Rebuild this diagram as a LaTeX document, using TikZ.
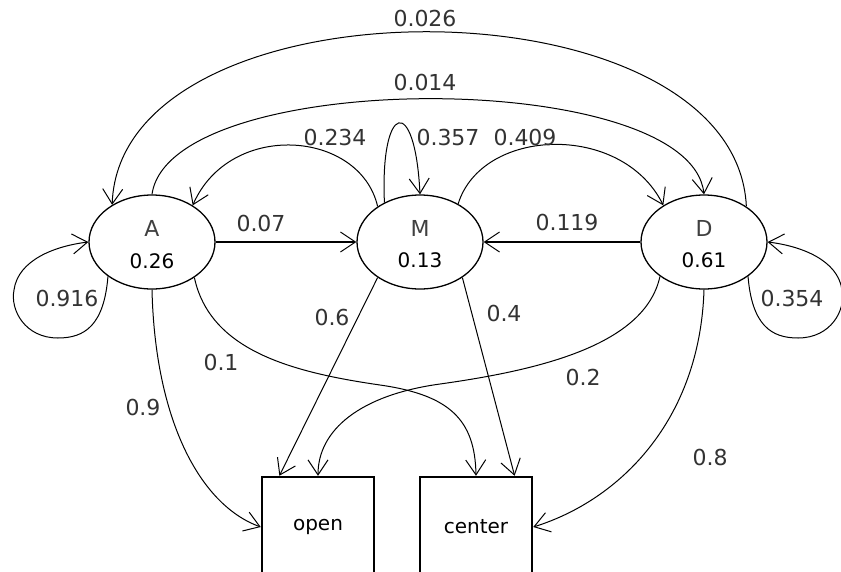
\documentclass[tikz,border=0pt]{standalone}
\usepackage{fontspec}
\setmainfont{DejaVu Sans}
\usetikzlibrary{arrows.meta,shapes.geometric}
\begin{document}
\begin{tikzpicture}[x=1pt,y=-1pt,
  st/.style={draw, ellipse, line width=1.3pt, minimum width=126pt, minimum height=94pt, inner sep=0pt},
  box/.style={draw, rectangle, line width=2.5pt, minimum width=112pt, minimum height=100pt, inner sep=0pt, font=\fontsize{20}{24}\selectfont},
  lbl/.style={inner sep=0pt, text=black!80, font=\fontsize{22}{26}\selectfont},
  stname/.style={inner sep=0pt, text=black!75, font=\fontsize{22}{26}\selectfont},
  stval/.style={inner sep=0pt, text=black, font=\fontsize{20}{24}\selectfont},
  conn/.style={line width=1pt, -{Straight Barb[length=15pt,width=20pt,line width=1pt]}},
  boldconn/.style={conn, line width=2pt},
]
\useasboundingbox (0,0) rectangle (841,571);
\clip (0,0) rectangle (841,571);

% states
\node[st] (A) at (152,242) {};
\node[st] (M) at (420,242) {};
\node[st] (D) at (704,242) {};
\node[stname] (An) at (152,228) {A};
\node[stval]  (Av) at (152,261) {0.26};
\node[stname] (Mn) at (420,228) {M};
\node[stval]  (Mv) at (420,260) {0.13};
\node[stname] (Dn) at (704,228) {D};
\node[stval]  (Dv) at (704,260) {0.61};

% boxes
\node[box] (open) at (318,527) {open};
\node[box] (center) at (476,527) {center};

% straight connectors
\draw[boldconn] (A.east) -- (M.west);
\draw[boldconn] (D.west) -- (M.east);
\draw[conn] (M.220) -- (open.127);
\draw[conn] (M.-40) -- (center.53);

% self loops
\draw[conn] (A.218) .. controls (104,325) and (85,338) .. (58,338)
  .. controls (25,338) and (10,310) .. (14,290)
  .. controls (18,260) and (55,246) .. (A.west);
\draw[conn] (D.-38) .. controls (752,325) and (771,338) .. (798,338)
  .. controls (831,338) and (846,310) .. (842,290)
  .. controls (838,260) and (801,246) .. (D.east);
\draw[conn] (M.132) .. controls (380,103) and (415,93) .. (M.north);

% arcs on top
\draw[conn] (M.140) .. controls (360,130) and (230,120) .. (A.42);
\draw[conn] (M.45) .. controls (482,127) and (622,122) .. (D.138);
\draw[conn] (A.north) .. controls (170,67) and (690,67) .. (D.north);
\draw[conn] (D.40) .. controls (735,-26) and (120,-26) .. (A.137);

% lower curves
\draw[conn] (A.south) .. controls (155,420) and (200,505) .. (open.west);
\draw[conn] (A.-40) .. controls (210,350) and (290,372) .. (380,385)
  .. controls (450,395) and (475,420) .. (center.north);
\draw[conn] (D.218) .. controls (645,345) and (540,370) .. (440,384)
  .. controls (360,395) and (318,430) .. (open.north);
\draw[conn] (D.south) .. controls (700,420) and (620,500) .. (center.east);

% labels
\node[lbl] (l026) at (425,18) {0.026};
\node[lbl] (l014) at (425,82) {0.014};
\node[lbl] (l234) at (335,137) {0.234};
\node[lbl] (l357) at (448,137) {0.357};
\node[lbl] (l409) at (525,137) {0.409};
\node[lbl] (l07)  at (261,223) {0.07};
\node[lbl] (l119) at (567,222) {0.119};
\node[lbl] (l916) at (67,298) {0.916};
\node[lbl] (l354) at (792,298) {0.354};
\node[lbl] (l6)   at (332,317) {0.6};
\node[lbl] (l4)   at (504,313) {0.4};
\node[lbl] (l1)   at (221,362) {0.1};
\node[lbl] (l2)   at (583,377) {0.2};
\node[lbl] (l9)   at (143,407) {0.9};
\node[lbl] (l8)   at (710,457) {0.8};
\end{tikzpicture}
\end{document}
